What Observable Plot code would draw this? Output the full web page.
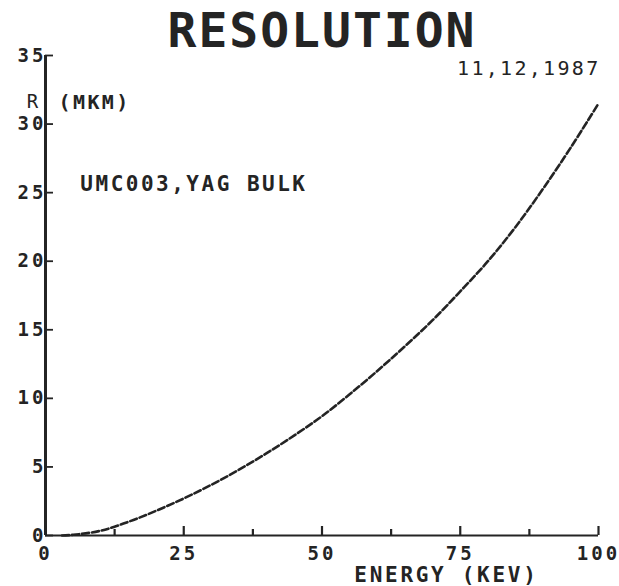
<!DOCTYPE html>
<html>
<head>
<meta charset="utf-8">
<script src="https://cdn.jsdelivr.net/npm/d3@7"></script>
<script src="https://cdn.jsdelivr.net/npm/@observablehq/plot@0.6"></script>
<style>
  html, body { margin: 0; padding: 0; background: #fff; }
  #chart svg { display: block; }
  #chart svg text { font-family: 'DejaVu Sans Mono', 'Liberation Mono', monospace; }
</style>
</head>
<body>
<div id="chart"></div>
<script>
// Data
const energy     = [3, 5, 10, 15, 20, 25, 30, 35, 40, 45, 50, 55, 60, 65, 70, 75, 80, 85, 90, 95, 100];
const resolution = [0, 0.05, 0.35, 1.0, 1.8, 2.7, 3.7, 4.8, 6.0, 7.3, 8.7, 10.3, 12.0, 13.8, 15.7, 17.8, 20.0, 22.5, 25.3, 28.3, 31.5];
const xTicks      = [0, 25, 50, 75, 100];
const xMinorTicks = [12.5, 37.5, 62.5, 87.5];
const yTicks      = [0, 5, 10, 15, 20, 25, 30, 35];
const titleText   = "RESOLUTION";
const dateText    = "11,12,1987";
const sampleText  = "UMC003,YAG BULK";
const yLabelText  = "R";
const yUnitText   = "(MKM)";
const xLabelText  = "ENERGY (KEV)";

const ink = "#242424";
const data = energy.map((e, i) => ({energy: e, r: resolution[i]}));

const chart = Plot.plot({
  width: 619,
  height: 586,
  marginLeft: 45,
  marginRight: 21,
  marginTop: 55,
  marginBottom: 51,
  x: {domain: [0, 100]},
  y: {domain: [0, 35]},
  marks: [
    // tick labels
    Plot.axisY(yTicks, {anchor: "left", tickSize: 0, tickPadding: -1, fontSize: 19, fontWeight: "bold", fill: ink, label: null}),
    Plot.axisX(xTicks, {anchor: "bottom", tickSize: 0, tickPadding: 11, fontSize: 19, fontWeight: "bold", fill: ink, label: null}),
    // texts
    Plot.text([titleText], {frameAnchor: "top", lineAnchor: "middle", dy: -24, fontSize: 48, fontWeight: "bold", fill: ink}),
    Plot.text([dateText], {frameAnchor: "top-right", lineAnchor: "middle", textAnchor: "end", dx: 2, dy: 13, fontSize: 20, fill: ink}),
    Plot.text([yLabelText], {x: 0, y: 31.6, dx: -13, textAnchor: "middle", fontSize: 19, fill: ink}),
    Plot.text([yUnitText], {x: 0, y: 31.6, dx: 13, textAnchor: "start", fontSize: 20, fontWeight: "bold", fill: ink}),
    Plot.text([sampleText], {x: 6.3, y: 25.6, textAnchor: "start", fontSize: 21, fontWeight: "bold", fill: ink}),
    Plot.text([xLabelText], {x: 72.5, y: 0, dy: 40, textAnchor: "middle", fontSize: 21, fontWeight: "bold", fill: ink}),
    // curve
    Plot.line(data, {x: "energy", y: "r", curve: "catmull-rom", stroke: ink, strokeWidth: 2.6, strokeDasharray: "7,3"}),
    // axis lines
    Plot.ruleX([0], {x: d => d, y1: 0, y2: 35, stroke: ink, strokeWidth: 3}),
    Plot.ruleY([0], {y: d => d, x1: 0, x2: 100, stroke: ink, strokeWidth: 2.2}),
    // y ticks pointing inward (right)
    Plot.ruleY(yTicks, {y: d => d, x1: 0, x2: 0, insetRight: -8, stroke: ink, strokeWidth: 1.8}),
    // x ticks pointing inward (up)
    Plot.ruleX(xTicks, {x: d => d, y1: 0, y2: 0, insetTop: -9, stroke: ink, strokeWidth: 2.2}),
    Plot.ruleX(xMinorTicks, {x: d => d, y1: 0, y2: 0, insetTop: -6, stroke: ink, strokeWidth: 2.2})
  ]
});

// letter spacing to imitate the wide plotter font
const spacing = new Map([
  [titleText, 2], [dateText, 2.3], [sampleText, 2.5], [yUnitText, 2.4], [xLabelText, 2.7]
]);
d3.select(chart).selectAll("text").each(function() {
  const t = this.textContent;
  if (spacing.has(t)) this.style.letterSpacing = spacing.get(t) + "px";
});
d3.select(chart).selectAll('g[aria-label$="tick label"] text').style("letter-spacing", "3px");
document.getElementById("chart").appendChild(chart);
</script>
</body>
</html>
